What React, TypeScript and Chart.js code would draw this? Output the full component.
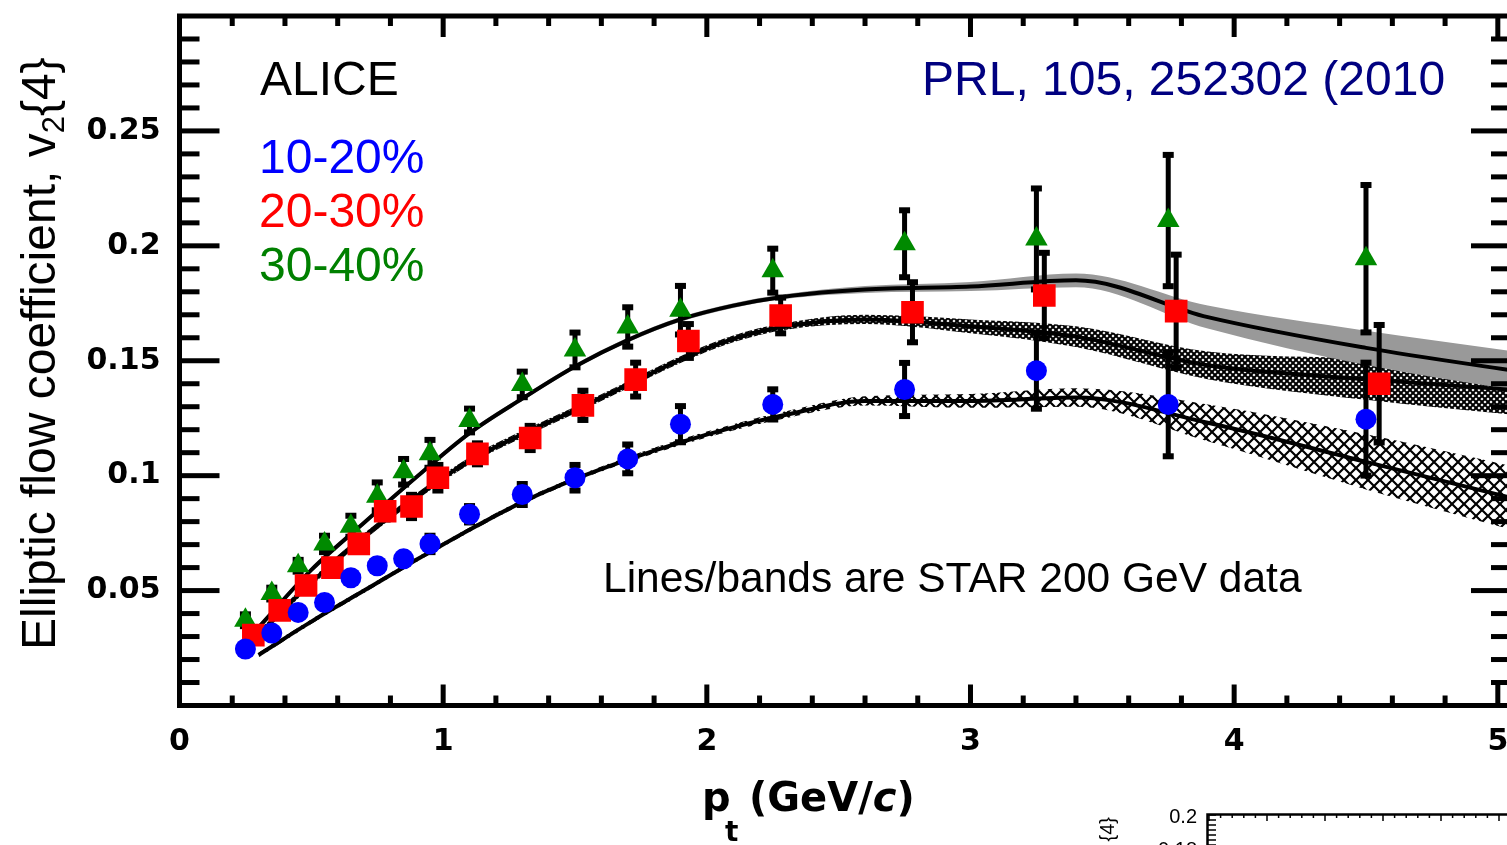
import React, { useEffect, useRef } from "react";
import { Chart, registerables } from "chart.js";

Chart.register(...registerables);

const CANVAS_W = 1530;
const CANVAS_H = 845;

// ---- ALICE v2{4} points ----
const ptBlueGreen = [0.25, 0.35, 0.45, 0.55, 0.65, 0.75, 0.85, 0.95, 1.1, 1.3, 1.5, 1.7, 1.9, 2.25, 2.75, 3.25, 3.75, 4.5];
const ptRed = [0.28, 0.38, 0.48, 0.58, 0.68, 0.78, 0.88, 0.98, 1.13, 1.33, 1.53, 1.73, 1.93, 2.28, 2.78, 3.28, 3.78, 4.55];

const v2Cent10to20 = [0.0246, 0.0315, 0.0405, 0.0448, 0.0556, 0.0608, 0.0638, 0.0703, 0.0832, 0.0918, 0.0991, 0.1073, 0.1224, 0.131, 0.1375, 0.1457, 0.131, 0.1246];
const errCent10to20 = [0.002, 0.002, 0.002, 0.002, 0.0025, 0.003, 0.003, 0.004, 0.004, 0.005, 0.006, 0.0067, 0.0083, 0.007, 0.012, 0.017, 0.023, 0.025];

const v2Cent20to30 = [0.0306, 0.0414, 0.0522, 0.06, 0.0703, 0.0845, 0.0866, 0.0991, 0.1095, 0.1164, 0.1306, 0.1418, 0.1586, 0.1697, 0.1711, 0.1784, 0.1716, 0.14];
const errCent20to30 = [0.002, 0.002, 0.0025, 0.003, 0.003, 0.004, 0.0055, 0.006, 0.005, 0.0057, 0.0068, 0.0078, 0.0078, 0.0082, 0.0135, 0.019, 0.025, 0.026];

const v2Cent30to40 = [0.0371, 0.0487, 0.0608, 0.0703, 0.078, 0.091, 0.1017, 0.1095, 0.124, 0.1397, 0.1547, 0.1647, 0.172, 0.1892, 0.2009, 0.203, 0.211, 0.1944];
const errCent30to40 = [0.003, 0.003, 0.003, 0.004, 0.005, 0.0065, 0.006, 0.0065, 0.0056, 0.006, 0.008, 0.009, 0.011, 0.01, 0.015, 0.0224, 0.029, 0.0325];

// ---- STAR 200 GeV lines / bands ----
const starPt = [0.3, 0.5, 0.7, 0.9, 1.1, 1.3, 1.5, 1.7, 1.9, 2.1, 2.3, 2.6, 3.0, 3.4, 3.9, 4.5, 5.1];
const starCent30to40 = [0.034, 0.059, 0.0795, 0.0995, 0.1185, 0.1335, 0.1475, 0.159, 0.168, 0.174, 0.178, 0.181, 0.1823, 0.185, 0.169, 0.1556, 0.145];
const starCent20to30 = [0.031, 0.0535, 0.0735, 0.091, 0.1065, 0.118, 0.1285, 0.1395, 0.1505, 0.1595, 0.165, 0.168, 0.165, 0.1605, 0.148, 0.142, 0.137];
const starCent10to20 = [0.022, 0.0365, 0.05, 0.0635, 0.0765, 0.0885, 0.0985, 0.107, 0.1145, 0.121, 0.1265, 0.1325, 0.1325, 0.134, 0.123, 0.106, 0.089];
const bandCent30to40 = [0.001, 0.001, 0.001, 0.001, 0.001, 0.001, 0.001, 0.001, 0.001, 0.001, 0.001, 0.0015, 0.002, 0.003, 0.005, 0.0075, 0.0085];
const bandCent20to30 = [0.0015, 0.0015, 0.0015, 0.0015, 0.0015, 0.0015, 0.0015, 0.0015, 0.0015, 0.0015, 0.0015, 0.002, 0.003, 0.0045, 0.006, 0.009, 0.011];
const bandCent10to20 = [0.001, 0.001, 0.001, 0.001, 0.001, 0.001, 0.001, 0.0012, 0.0013, 0.0014, 0.0015, 0.002, 0.003, 0.004, 0.008, 0.012, 0.014];

// ---- axes ----
const xTicks = [0, 1, 2, 3, 4, 5];
const yTicks = [0.05, 0.1, 0.15, 0.2, 0.25];
const centralityLabels = ["10-20%", "20-30%", "30-40%"];

const COL_BLUE = "#0000ff";
const COL_RED = "#ff0000";
const COL_GREEN = "#008a00";

const pts = (xs: number[], ys: number[]) => xs.map((x, i) => ({ x, y: ys[i] }));

const errorBarPlugin = {
  id: "errbars",
  beforeDatasetsDraw(chart: any) {
    chart.$errDone = false;
  },
  beforeDatasetDraw(chart: any, args: any) {
    const ds = chart.data.datasets[args.index];
    if (!ds.isMarker || chart.$errDone) return;
    chart.$errDone = true;
    const { ctx } = chart;
    const xs = chart.scales.x;
    const ys = chart.scales.y;
    ctx.save();
    ctx.fillStyle = "#000";
    chart.data.datasets.forEach((d: any) => {
      if (!d.isMarker) return;
      d.data.forEach((p: any, i: number) => {
        const px = xs.getPixelForValue(p.x);
        const top = ys.getPixelForValue(p.y + d.errs[i]);
        const bot = ys.getPixelForValue(p.y - d.errs[i]);
        ctx.fillRect(px - 2.5, top, 5, bot - top);
        ctx.fillRect(px - 5.5, top - 2, 11, 6);
        ctx.fillRect(px - 5.5, bot - 4, 11, 6);
      });
    });
    ctx.restore();
  },
};

const framePlugin = {
  id: "frame",
  afterDraw(chart: any) {
    const { ctx, chartArea } = chart;
    const { left, right, top, bottom } = chartArea;
    const xs = chart.scales.x;
    const ys = chart.scales.y;
    ctx.save();
    ctx.fillStyle = "#000";
    ctx.strokeStyle = "#000";
    // frame
    ctx.lineWidth = 5;
    ctx.strokeRect(left, top, right - left, bottom - top);
    // y ticks every 0.01
    for (let k = 1; k < 30; k++) {
      const v = k * 0.01;
      const py = ys.getPixelForValue(v);
      const len = k % 5 === 0 ? 40 : 20;
      ctx.fillRect(left, py - 2.5, len, 5);
      ctx.fillRect(right - len, py - 2.5, len, 5);
    }
    // x ticks every 0.2
    for (let k = 1; k * 0.2 < xs.max; k++) {
      const v = k * 0.2;
      const px = xs.getPixelForValue(v);
      const len = k % 5 === 0 ? 21 : 10;
      ctx.fillRect(px - 2.5, bottom - len, 5, len);
      ctx.fillRect(px - 2.5, top, 5, len);
    }

    // annotations
    ctx.textAlign = "left";
    ctx.textBaseline = "alphabetic";
    ctx.font = '48px "Liberation Sans", Arial, sans-serif';
    ctx.fillStyle = "#000";
    ctx.fillText("ALICE", 260, 95);
    const cols = [COL_BLUE, "#ff0000", "#008000"];
    centralityLabels.forEach((t, i) => {
      ctx.fillStyle = cols[i];
      ctx.fillText(t, 259, 173 + i * 54);
    });
    ctx.fillStyle = "#000080";
    ctx.fillText("PRL, 105, 252302 (2010", 922, 95);
    ctx.fillStyle = "#000";
    ctx.font = '42.5px "Liberation Sans", Arial, sans-serif';
    ctx.fillText("Lines/bands are STAR 200 GeV data", 603, 592);

    // y title
    ctx.save();
    ctx.translate(55, 650);
    ctx.rotate(-Math.PI / 2);
    ctx.font = '48px "Liberation Sans", Arial, sans-serif';
    let tx = 0;
    const t1 = "Elliptic flow coefficient, v";
    ctx.fillText(t1, 0, 0);
    tx += ctx.measureText(t1).width;
    ctx.font = '31px "Liberation Sans", Arial, sans-serif';
    ctx.fillText("2", tx, 9);
    tx += ctx.measureText("2").width;
    ctx.font = '48px "Liberation Sans", Arial, sans-serif';
    ctx.fillText("{4}", tx, 0);
    ctx.restore();

    // x title
    const base = 811;
    let xx = 702;
    ctx.font = 'bold 40px "DejaVu Sans", sans-serif';
    ctx.fillText("p", xx, base);
    ctx.font = 'bold 28px "DejaVu Sans", sans-serif';
    ctx.fillText("t", 725, 841);
    xx = 749;
    ctx.font = 'bold 40px "DejaVu Sans", sans-serif';
    ctx.fillText("(GeV/", xx, base);
    xx += ctx.measureText("(GeV/").width;
    ctx.font = 'italic bold 40px "DejaVu Sans", sans-serif';
    ctx.fillText("c", xx, base);
    xx += ctx.measureText("c").width;
    ctx.font = 'bold 40px "DejaVu Sans", sans-serif';
    ctx.fillText(")", xx, base);

    // fragment of the neighbouring panel (bottom right)
    ctx.font = '20px "Liberation Sans", Arial, sans-serif';
    ctx.textAlign = "right";
    ctx.fillText("0.2", 1197, 823);
    ctx.fillText("0.18", 1197, 856);
    ctx.lineWidth = 2.5;
    ctx.beginPath();
    ctx.moveTo(1207.5, 846);
    ctx.lineTo(1207.5, 814.5);
    ctx.lineTo(1530, 814.5);
    ctx.stroke();
    for (let i = 0; i < 30; i++) {
      const px = 1209 + i * 11.6;
      const len = i % 5 === 0 ? 6 : 3;
      ctx.fillRect(px - 0.75, 815, 1.5, len);
    }
    for (let i = 0; i < 7; i++) {
      ctx.fillRect(1208, 815 + i * 5 - 0.75, 8, 1.5);
    }
    ctx.save();
    ctx.translate(1114, 817);
    ctx.rotate(-Math.PI / 2);
    ctx.textAlign = "right";
    ctx.fillText("{4}", 0, 0);
    ctx.restore();
    ctx.restore();
  },
};

export default function App() {
  const ref = useRef<HTMLCanvasElement>(null);

  useEffect(() => {
    const canvas = ref.current!;
    const c2d = canvas.getContext("2d")!;

    const makeHatch = (size: number, lw: number) => {
      const t = document.createElement("canvas");
      t.width = size;
      t.height = size;
      const c = t.getContext("2d")!;
      c.strokeStyle = "#000";
      c.lineWidth = lw;
      c.beginPath();
      c.moveTo(-1, -1);
      c.lineTo(size + 1, size + 1);
      c.moveTo(size + 1, -1);
      c.lineTo(-1, size + 1);
      c.stroke();
      return c2d.createPattern(t, "repeat");
    };
    const denseHatch = makeHatch(6, 2);
    const sparseHatch = makeHatch(12, 2.2);

    const markerDs = (label: string, xs: number[], ys: number[], errs: number[], style: string, r: number, color: string) => ({
      label,
      data: pts(xs, ys),
      errs,
      isMarker: true,
      showLine: false,
      order: 0,
      pointStyle: style,
      pointRadius: r,
      pointHoverRadius: r,
      pointBackgroundColor: color,
      pointBorderColor: color,
      pointBorderWidth: 0,
      borderColor: color,
      backgroundColor: color,
    });

    const lineDs = (ys: number[]) => ({
      data: pts(starPt, ys),
      borderColor: "#000",
      borderWidth: 4,
      pointRadius: 0,
      cubicInterpolationMode: "monotone",
      fill: false,
      order: 1,
    });

    const bandDs = (ys: number[], hw: number[], bg: any) => [
      {
        data: pts(starPt, ys.map((v, i) => v + hw[i])),
        borderColor: "transparent",
        borderWidth: 0,
        pointRadius: 0,
        cubicInterpolationMode: "monotone",
        fill: "+1",
        backgroundColor: bg,
        order: 2,
      },
      {
        data: pts(starPt, ys.map((v, i) => v - hw[i])),
        borderColor: "transparent",
        borderWidth: 0,
        pointRadius: 0,
        cubicInterpolationMode: "monotone",
        fill: false,
        order: 2,
      },
    ];

    const chart = new Chart(canvas, {
      type: "line",
      data: {
        datasets: [
          markerDs(centralityLabels[0], ptBlueGreen, v2Cent10to20, errCent10to20, "circle", 10.5, COL_BLUE),
          markerDs(centralityLabels[1], ptRed, v2Cent20to30, errCent20to30, "rect", 16, COL_RED),
          markerDs(centralityLabels[2], ptBlueGreen, v2Cent30to40, errCent30to40, "triangle", 13, COL_GREEN),
          lineDs(starCent30to40),
          lineDs(starCent20to30),
          lineDs(starCent10to20),
          ...bandDs(starCent30to40, bandCent30to40, "#999999"),
          ...bandDs(starCent20to30, bandCent20to30, denseHatch),
          ...bandDs(starCent10to20, bandCent10to20, sparseHatch),
        ] as any,
      },
      options: {
        animation: false,
        responsive: false,
        events: [],
        layout: { padding: { top: 11.5, right: CANVAS_W - 1511, left: 0, bottom: 0 } },
        plugins: {
          legend: { display: false },
          tooltip: { enabled: false },
          filler: { propagate: false },
        },
        scales: {
          x: {
            type: "linear",
            min: 0,
            max: 5.05,
            grid: { display: false, drawTicks: false },
            border: { display: false },
            afterBuildTicks: (s: any) => {
              s.ticks = xTicks.map((v) => ({ value: v }));
            },
            afterFit: (s: any) => {
              s.height = CANVAS_H - 705.5;
              s.paddingLeft = 0;
              s.paddingRight = 0;
            },
            ticks: {
              autoSkip: false,
              maxRotation: 0,
              padding: 19,
              color: "#000",
              font: { family: '"DejaVu Sans", sans-serif', weight: "bold", size: 30 },
              callback: (v: any) => String(v),
            },
          },
          y: {
            type: "linear",
            min: 0,
            max: 0.3,
            grid: { display: false, drawTicks: false },
            border: { display: false },
            afterBuildTicks: (s: any) => {
              s.ticks = yTicks.map((v) => ({ value: v }));
            },
            afterFit: (s: any) => {
              s.width = 179.5;
              s.paddingTop = 0;
              s.paddingBottom = 0;
            },
            ticks: {
              padding: 19,
              color: "#000",
              font: { family: '"DejaVu Sans", sans-serif', weight: "bold", size: 30 },
              callback: (v: any) => String(v),
            },
          },
        },
      } as any,
      plugins: [errorBarPlugin, framePlugin],
    });

    return () => chart.destroy();
  }, []);

  return (
    <div
      style={{
        position: "absolute",
        left: 0,
        top: 0,
        width: 1507,
        height: 845,
        overflow: "hidden",
        background: "#fff",
      }}
    >
      <canvas ref={ref} width={CANVAS_W} height={CANVAS_H} style={{ display: "block", width: CANVAS_W, height: CANVAS_H }} />
    </div>
  );
}
